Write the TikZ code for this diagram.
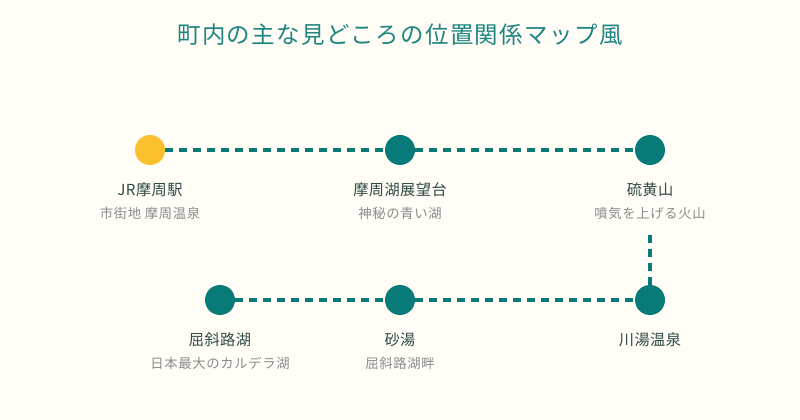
\documentclass[tikz,border=0pt]{standalone}
\usepackage{fontspec}
\setmainfont{Noto Sans CJK JP}
\newfontfamily\jpfont{Noto Sans CJK JP}
\definecolor{bgc}{HTML}{FFFDF6}
\definecolor{teal}{HTML}{087A78}
\definecolor{titlec}{HTML}{1F8581}
\definecolor{gold}{HTML}{FBC02D}
\definecolor{namec}{HTML}{2E4A44}
\definecolor{subc}{HTML}{8C8C8C}
\begin{document}
\begin{tikzpicture}[x=0.75pt,y=-0.75pt,
  spot/.style={circle,fill=teal,minimum size=22.5pt,inner sep=0pt},
  startspot/.style={spot,fill=gold},
  route/.style={draw=teal,line width=3pt,dash pattern=on 6pt off 4.5pt},
  nametext/.style={text=namec,font=\jpfont\fontsize{11.4pt}{13pt}\selectfont\addfontfeatures{LetterSpace=3},inner sep=0pt},
  subtext/.style={text=subc,font=\jpfont\fontsize{10pt}{12pt}\selectfont\addfontfeatures{LetterSpace=5},inner sep=0pt},
  titletext/.style={text=titlec,font=\jpfont\fontsize{17.6pt}{20pt}\selectfont\addfontfeatures{LetterSpace=6},inner sep=0pt}]
\fill[bgc] (0,0) rectangle (800,420);
\useasboundingbox (0,0) rectangle (800,420);
\node[titletext] (title) at (400,35) {町内の主な見どころの位置関係マップ風};
% spots
\node[startspot] (a) at (150,150) {};
\node[spot] (b) at (400,150) {};
\node[spot] (c) at (650,150) {};
\node[spot] (d) at (650,300) {};
\node[spot] (e) at (400,300) {};
\node[spot] (f) at (220,300) {};
\coordinate (cdown) at (650,235);
% routes
\draw[route] (a) -- (b);
\draw[route] (b) -- (c);
\draw[route] (cdown) -- (d);
\draw[route] (e) -- (d);
\draw[route] (f) -- (e);
% labels
\node[nametext] (an) at (150,190) {JR摩周駅};
\node[subtext] (as) at (150,213) {市街地 摩周温泉};
\node[nametext] (bn) at (400,190) {摩周湖展望台};
\node[subtext] (bs) at (400,213) {神秘の青い湖};
\node[nametext] (cn) at (650,190) {硫黄山};
\node[subtext] (cs) at (650,213) {噴気を上げる火山};
\node[nametext] (dn) at (650,340) {川湯温泉};
\node[nametext] (en) at (400,340) {砂湯};
\node[subtext] (es) at (400,363) {屈斜路湖畔};
\node[nametext] (fn) at (220,340) {屈斜路湖};
\node[subtext] (fs) at (220,363) {日本最大のカルデラ湖};
\end{tikzpicture}
\end{document}
